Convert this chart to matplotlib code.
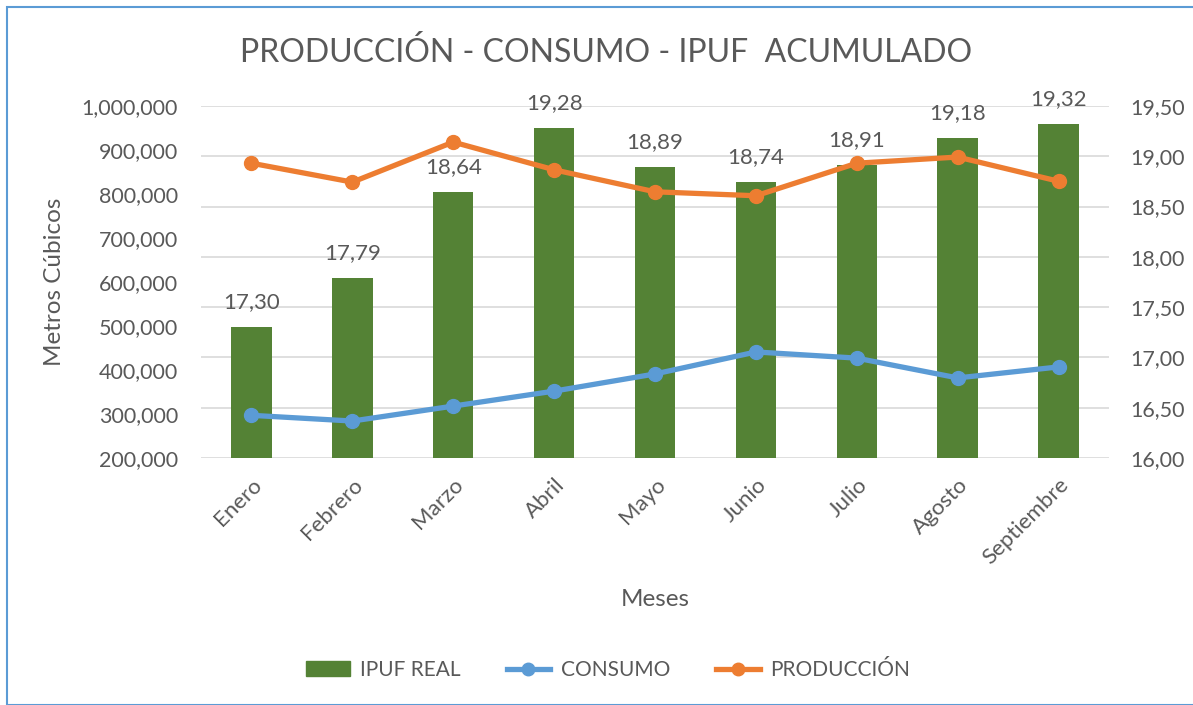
import numpy as np
import matplotlib.pyplot as plt
from matplotlib.patches import Rectangle
from matplotlib.lines import Line2D
from matplotlib.ticker import FuncFormatter

plt.rcParams['font.family'] = ['Lato', 'DejaVu Sans']

meses = ['Enero', 'Febrero', 'Marzo', 'Abril', 'Mayo', 'Junio', 'Julio', 'Agosto', 'Septiembre']
ipuf_real = [17.30, 17.79, 18.64, 19.28, 18.89, 18.74, 18.91, 19.18, 19.32]
consumo = [297000, 284000, 318000, 352000, 391000, 441000, 427000, 382000, 407000]
produccion = [870000, 827000, 918000, 855000, 805000, 796000, 870000, 884000, 829000]

GREEN = '#548235'
BLUE = '#5B9BD5'
ORANGE = '#ED7D31'
GRAY = '#595959'

fig = plt.figure(figsize=(11.93, 7.05), dpi=100)
fig.patches.append(Rectangle((7 / 1193, 0), 1.2, 1 - 7 / 705, transform=fig.transFigure,
                             fill=False, edgecolor='#5B9BD5', linewidth=1.5))

rect = [201 / 1193, 1 - 458 / 705, 908 / 1193, 352 / 705]
axl = fig.add_axes(rect)
axb = axl.twinx()
axl.set_zorder(axb.get_zorder() + 1)
axl.patch.set_visible(False)

x = np.arange(len(meses))

# bars on secondary axis
axb.bar(x, ipuf_real, width=0.4, color=GREEN, zorder=2)
axb.set_ylim(16.0, 19.5)
axb.set_yticks(np.arange(16.0, 19.51, 0.5))
axb.yaxis.set_major_formatter(FuncFormatter(lambda v, p: f'{v:.2f}'.replace('.', ',')))
axb.grid(axis='y', color='#D9D9D9', linewidth=1.2, zorder=0)
axb.set_axisbelow(True)
for xi, v in zip(x, ipuf_real):
    axb.annotate(f'{v:.2f}'.replace('.', ','), (xi, v), xytext=(0, 11), textcoords='offset points',
                 ha='center', va='bottom', fontsize=16, color=GRAY)

# lines on primary axis
axl.plot(x, consumo, color=BLUE, linewidth=3.8, marker='o', markersize=10, zorder=3)
axl.plot(x, produccion, color=ORANGE, linewidth=3.8, marker='o', markersize=10, zorder=3)
axl.set_ylim(200000, 1000000)
axl.set_yticks(np.arange(200000, 1000001, 100000))
axl.yaxis.set_major_formatter(FuncFormatter(lambda v, p: f'{int(v):,}'))
axl.set_xlim(-0.5, len(meses) - 0.5)
axl.set_xticks(x)
axl.set_xticklabels(meses, rotation=45, ha='right', va='top', rotation_mode='anchor')

for a in (axl, axb):
    for s in a.spines.values():
        s.set_visible(False)
    a.tick_params(length=0, labelsize=15.5, labelcolor=GRAY)
axl.tick_params(axis='y', pad=16.5)
axb.tick_params(axis='y', pad=15)
axl.tick_params(axis='x', labelsize=16, pad=12)

axl.set_ylabel('Metros Cúbicos', fontsize=17.5, color=GRAY, labelpad=12)
fig.text(655 / 1193, 1 - 600 / 705, 'Meses', fontsize=17.5, color=GRAY, ha='center', va='center')
fig.text(606 / 1193, 1 - 52 / 705, 'PRODUCCIÓN - CONSUMO - IPUF  ACUMULADO', fontsize=23,
         color=GRAY, ha='center', va='center')

handles = [Rectangle((0, 0), 1, 1, color=GREEN),
           Line2D([], [], color=BLUE, linewidth=3.8, marker='o', markersize=9),
           Line2D([], [], color=ORANGE, linewidth=3.8, marker='o', markersize=9)]
fig.legend(handles, ['IPUF REAL', 'CONSUMO', 'PRODUCCIÓN'], loc='center',
           bbox_to_anchor=(608 / 1193, 1 - 670 / 705), ncol=3, frameon=False,
           fontsize=15, labelcolor=GRAY, handlelength=2.1, handletextpad=0.5,
           columnspacing=2.2, handleheight=0.7)

fig.savefig('out.png', dpi=100)
